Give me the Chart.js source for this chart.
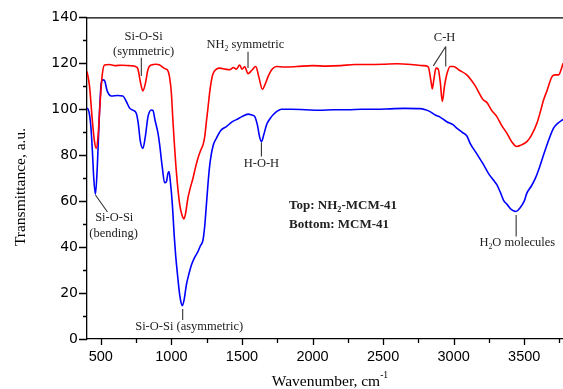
<!DOCTYPE html>
<html>
<head>
<meta charset="utf-8">
<script src="https://cdn.jsdelivr.net/npm/chart.js@4.4.0/dist/chart.umd.min.js"></script>
<style>
  html, body { margin: 0; padding: 0; background: #fff; overflow: hidden; }
  #wrap { width: 563px; height: 389px; }
</style>
</head>
<body>
<div id="wrap"><canvas id="ftir" width="563" height="389"></canvas></div>
<script>
// FTIR spectra: amine-functionalised MCM-41 (top) and bare MCM-41 (bottom)
const nh2Wavenumber = [402,420,440,455,467,480,495,510,526,560,600,650,700,727,750,763,780,798,815,835,858,890,917,945,960,971,987,1000,1011,1035,1059,1075,1089,1100,1117,1135,1153,1170,1188,1210,1224,1236,1248,1260,1272,1285,1295,1320,1342,1380,1413,1440,1460,1484,1500,1520,1543,1570,1598,1620,1645,1665,1685,1715,1745,1800,1887,2000,2100,2200,2300,2400,2500,2600,2700,2785,2820,2840,2849,2860,2875,2890,2905,2920,2935,2951,2975,2998,3040,3093,3150,3211,3235,3270,3306,3340,3377,3410,3448,3480,3519,3550,3590,3615,3637,3661,3697,3720,3744,3760,3775];
const nh2Transmittance = [116.5,110,95,86,83,88,103,115,119.3,119.5,119,119.2,119,118.9,118.5,117.5,112,108,111,117.5,119.3,119.6,119.3,118,117.5,117.2,114,107,95,73,58.5,54,52.3,54.5,61.3,66,70,74.5,78.7,82.5,84.5,88,94.6,101,107.7,113,115.5,117.5,117.9,117.5,117.2,118.2,117.5,119.3,117.5,118.5,115.5,117,118.6,114,108.7,111,114.2,117.5,118.6,118.4,118.6,119,118.8,119,119.5,119.5,119.6,119.8,119.5,119,118.5,112,108.9,113,117.9,117.6,112,103.4,110,115,118.6,118.6,117,115,110.5,104,103,99.5,96.8,93,89.6,86,83.8,84.5,85.9,88.5,93.9,99,104,108,114.2,115,115,117,120];

const mcmWavenumber = [401,410,420,430,440,450,462,475,490,503,515,526,545,574,620,656,680,704,730,751,765,780,798,815,835,858,869,885,905,917,935,952,965,975,983,992,1007,1020,1030,1045,1059,1070,1078,1090,1106,1125,1142,1165,1188,1205,1224,1236,1248,1260,1272,1295,1319,1350,1390,1430,1461,1500,1543,1570,1591,1610,1625,1638,1655,1674,1700,1721,1750,1780,1850,1950,2050,2150,2250,2350,2450,2550,2650,2762,2800,2833,2870,2904,2951,2998,3022,3060,3093,3117,3160,3211,3250,3282,3306,3330,3353,3380,3410,3443,3470,3500,3519,3550,3578,3610,3637,3670,3708,3740,3775];
const mcmTransmittance = [100.5,100,97.6,92,82,70,63,75,98,111.4,112.8,112.5,108,105.8,106,105.8,103.5,100.5,99.5,98.3,94,86,83,88,97,99.7,99.5,95,89.6,84.5,75,68,68.5,72,72.9,69,58.4,45,36.6,27,19.2,15.5,14.5,17,23.5,28.5,32.2,35.5,38,40.5,43.1,49,58.4,68,75.8,84,87.4,90.8,92.5,94.5,95.5,96.8,97.9,97.5,96.8,93,88,85.9,89,93.2,96,97.6,99.2,100,100,99.8,99.6,99.8,99.8,100,100,100.2,100.4,100.3,99.8,99,97.5,96.6,94.6,93.2,91.8,90,88.5,85.2,81,76,71.8,69.2,67.2,64,60.5,58.5,56.3,55.5,57,60,63.5,66.5,69.8,75,80.1,86,91.8,94,95.6];

const seriesNames = ['NH2-MCM-41', 'MCM-41'];
const xTickValues = [500, 1000, 1500, 2000, 2500, 3000, 3500];
const yTickValues = [0, 20, 40, 60, 80, 100, 120, 140];

// band labels, placed in axis units (wavenumber, transmittance)
const bandLabels = [
  { parts: [{ t: 'Si-O-Si' }], at: [803, 131.5], align: 'center' },
  { parts: [{ t: '(symmetric)' }], at: [803, 125], align: 'center' },
  { parts: [{ t: 'NH' }, { t: '2', sub: true }, { t: ' symmetric' }], at: [1248, 128], align: 'left' },
  { parts: [{ t: 'C-H' }], at: [2936, 131.1], align: 'center' },
  { parts: [{ t: 'H-O-H' }], at: [1638, 76.2], align: 'center' },
  { parts: [{ t: 'Si-O-Si' }], at: [595, 52.6], align: 'center' },
  { parts: [{ t: '(bending)' }], at: [590, 46], align: 'center' },
  { parts: [{ t: 'Si-O-Si (asymmetric)' }], at: [1126, 5.4], align: 'center' },
  { parts: [{ t: 'Top: NH' }, { t: '2', sub: true }, { t: '-MCM-41' }], at: [1834, 58.1], align: 'left', bold: true },
  { parts: [{ t: 'Bottom: MCM-41' }], at: [1834, 49.7], align: 'left', bold: true },
  { parts: [{ t: 'H' }, { t: '2', sub: true }, { t: 'O molecules' }], at: [3183, 41.7], align: 'left' }
];
const leaderLines = [
  [[787, 122.4], [787, 114.5]],
  [[1543, 125], [1543, 118]],
  [[2944, 127.3], [2856, 118.9]],
  [[2944, 127.3], [2944, 118.6]],
  [[1638, 85.5], [1638, 79.4]],
  [[462, 62.7], [547, 55.3]],
  [[1080, 13.1], [1080, 8.3]],
  [[3443, 54], [3443, 44.6]]
];

const SERIF = '"Liberation Serif", "Times New Roman", serif';

function drawRich(ctx, parts, x, y, size, weight, align) {
  const fontFor = p => `${weight} ${(p.sub || p.sup) ? size * 0.62 : size}px ${SERIF}`;
  let total = 0;
  for (const p of parts) { ctx.font = fontFor(p); total += ctx.measureText(p.t).width; }
  let cx = align === 'center' ? x - total / 2 : x;
  ctx.textAlign = 'left';
  ctx.textBaseline = 'middle';
  for (const p of parts) {
    ctx.font = fontFor(p);
    const dy = p.sub ? size * 0.32 : p.sup ? -size * 0.38 : 0;
    ctx.fillText(p.t, cx, y + dy);
    cx += ctx.measureText(p.t).width;
  }
}

// ticks (major + minor), top frame, band labels and axis titles
const decorations = {
  id: 'decorations',
  afterDraw(chart) {
    const { ctx, chartArea: a, scales: { x, y } } = chart;
    ctx.save();
    ctx.strokeStyle = '#000';
    ctx.lineWidth = 1.3;
    ctx.beginPath();
    ctx.moveTo(a.left, a.top + 0.5);
    ctx.lineTo(a.right, a.top + 0.5);
    for (let v = 0; v <= 140; v += 10) {
      const py = Math.round(y.getPixelForValue(v)) + 0.5;
      const len = v % 20 === 0 ? 8 : 4;
      ctx.moveTo(a.left - len, py);
      ctx.lineTo(a.left, py);
    }
    for (let v = 500; v <= x.max; v += 250) {
      const px = Math.round(x.getPixelForValue(v)) + 0.5;
      const len = v % 500 === 0 ? 6 : 4;
      ctx.moveTo(px, a.bottom);
      ctx.lineTo(px, a.bottom + len);
    }
    ctx.stroke();

    ctx.strokeStyle = '#333';
    ctx.lineWidth = 1.1;
    ctx.beginPath();
    for (const [p0, p1] of leaderLines) {
      ctx.moveTo(x.getPixelForValue(p0[0]), y.getPixelForValue(p0[1]));
      ctx.lineTo(x.getPixelForValue(p1[0]), y.getPixelForValue(p1[1]));
    }
    ctx.stroke();

    ctx.fillStyle = '#222';
    for (const lb of bandLabels) {
      drawRich(ctx, lb.parts, x.getPixelForValue(lb.at[0]), y.getPixelForValue(lb.at[1]),
        lb.bold ? 13 : 12.5, lb.bold ? 'bold' : 'normal', lb.align);
    }

    ctx.fillStyle = '#000';
    drawRich(ctx, [{ t: 'Wavenumber, cm' }, { t: '-1', sup: true }], 330, 381.5, 15.5, 'normal', 'center');
    ctx.translate(21, 187);
    ctx.rotate(-Math.PI / 2);
    drawRich(ctx, [{ t: 'Transmittance, a.u.' }], 0, 0, 15.5, 'normal', 'center');
    ctx.restore();
  }
};

new Chart(document.getElementById('ftir'), {
  type: 'line',
  data: {
    datasets: [
      {
        label: seriesNames[0],
        data: nh2Wavenumber.map((w, i) => ({ x: w, y: nh2Transmittance[i] })),
        borderColor: '#ff0000',
        borderWidth: 1.6,
        pointRadius: 0,
        cubicInterpolationMode: 'monotone',
        fill: false
      },
      {
        label: seriesNames[1],
        data: mcmWavenumber.map((w, i) => ({ x: w, y: mcmTransmittance[i] })),
        borderColor: '#0000ff',
        borderWidth: 1.6,
        pointRadius: 0,
        cubicInterpolationMode: 'monotone',
        fill: false
      }
    ]
  },
  options: {
    responsive: false,
    animation: false,
    devicePixelRatio: 1,
    layout: { padding: { top: 17, right: 0, bottom: 0, left: 0 } },
    plugins: { legend: { display: false }, tooltip: { enabled: false } },
    scales: {
      x: {
        type: 'linear',
        min: 402,
        max: 3775,
        afterBuildTicks: s => { s.ticks = xTickValues.map(v => ({ value: v })); },
        afterFit: s => { s.height = 50; },
        grid: { display: false, drawTicks: false },
        border: { display: true, color: '#000', width: 1.3 },
        ticks: {
          color: '#000',
          padding: 9,
          maxRotation: 0,
          callback: v => String(v),
          font: { family: '"Liberation Sans", Arial, sans-serif', size: 14.5 }
        }
      },
      y: {
        min: 0,
        max: 140,
        afterBuildTicks: s => { s.ticks = yTickValues.map(v => ({ value: v })); },
        afterFit: s => { s.width = 87; },
        grid: { display: false, drawTicks: false },
        border: { display: true, color: '#000', width: 1.3 },
        ticks: {
          color: '#000',
          padding: 9,
          callback: v => String(v),
          font: { family: '"DejaVu Sans", sans-serif', size: 14 }
        }
      }
    }
  },
  plugins: [decorations]
});
</script>
</body>
</html>
